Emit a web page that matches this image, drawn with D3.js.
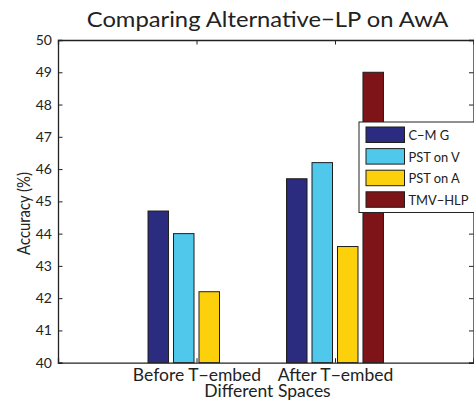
<!DOCTYPE html>
<html>
<head>
<meta charset="utf-8">
<script src="https://cdn.jsdelivr.net/npm/d3@7"></script>
<style>
  body { margin: 0; background: #fff; }
  text { font-family: Lato, "Open Sans", sans-serif; fill: #222; }
</style>
</head>
<body>
<script>
// Grouped bar chart -- Alternative-LP comparison on AwA
var categories = ["Before T\u2212embed", "After T\u2212embed"];
var seriesNames = ["C\u2212M G", "PST on V", "PST on A", "TMV\u2212HLP"];
var seriesColors = ["#2b2b7f", "#4fc8eb", "#fcd10c", "#7e1417"];
// one array per series, null = no bar
var cmg = [44.7, 45.7];
var pstV = [44.0, 46.2];
var pstA = [42.2, 43.6];
var tmvHlp = [null, 49.0];
var yTicks = [40, 41, 42, 43, 44, 45, 46, 47, 48, 49, 50];

var width = 474, height = 400;
var margin = {top: 40, right: 0.5, bottom: 37.3, left: 58};
var innerW = width - margin.left - margin.right,
    innerH = height - margin.top - margin.bottom;

var svg = d3.select("body").append("svg")
  .attr("width", width)
  .attr("height", height);

var g = svg.append("g")
  .attr("transform", "translate(" + margin.left + "," + margin.top + ")");

// matlab style: categories at 1 and 2, xlim [0,3]
var x = d3.scaleLinear().domain([0, 3]).range([0, innerW]);
var y = d3.scaleLinear().domain([40, 50]).range([innerH, 0]);

var allSeries = [cmg, pstV, pstA, tmvHlp];
var nSeries = allSeries.length;
var barW = 0.148, barStep = 0.184;

var bars = [];
allSeries.forEach(function(vals, s){
  vals.forEach(function(v, c){
    if (v == null) return;
    bars.push({series: s, cat: c, value: v});
  });
});

g.selectAll(".bar")
  .data(bars)
  .enter()
  .append("rect")
  .attr("class", "bar")
  .attr("x", function(d){
    var center = (d.cat + 1) + (d.series - (nSeries - 1) / 2) * barStep;
    return x(center - barW / 2);
  })
  .attr("width", x(barW) - x(0))
  .attr("y", function(d){ return y(d.value); })
  .attr("height", function(d){ return innerH - y(d.value); })
  .style("fill", function(d){ return seriesColors[d.series]; })
  .style("stroke", "#1e1e1e")
  .style("stroke-width", 1);

// box + ticks
var tickLen = 4.5;
var catTicks = categories.map(function(c, i){ return i + 1; });

var axisL = d3.axisLeft(y).tickValues(yTicks).tickSize(-tickLen).tickPadding(6)
  .tickFormat(d3.format("d"));
var axisR = d3.axisRight(y).tickValues(yTicks).tickSize(-tickLen).tickFormat("");
var axisB = d3.axisBottom(x).tickValues(catTicks).tickSize(-tickLen).tickPadding(6)
  .tickFormat(function(d){ return categories[d - 1]; });
var axisT = d3.axisTop(x).tickValues(catTicks).tickSize(-tickLen).tickFormat("");

var gl = g.append("g").call(axisL);
var gr = g.append("g").attr("transform", "translate(" + innerW + ",0)").call(axisR);
var gb = g.append("g").attr("transform", "translate(0," + innerH + ")").call(axisB);
var gt = g.append("g").call(axisT);

[gl, gr, gb, gt].forEach(function(a){
  a.select(".domain").attr("stroke", "#222").attr("stroke-width", 1.3);
  a.selectAll(".tick line").attr("stroke", "#222");
});
gl.selectAll(".tick text").style("font-size", "14px").style("fill", "#222")
  .style("font-family", "Lato, sans-serif");
gb.selectAll(".tick text").style("font-size", "17.5px").style("fill", "#222")
  .style("font-family", "Lato, sans-serif");

// squeeze a text a bit, the original font is narrower than Lato
function condense(sel, factor){
  sel.each(function(){
    var len = this.getComputedTextLength();
    d3.select(this)
      .attr("textLength", len * factor)
      .attr("lengthAdjust", "spacingAndGlyphs");
  });
}

// titles
svg.append("text")
  .attr("x", 267.5)
  .attr("y", 27)
  .attr("text-anchor", "middle")
  .style("font-size", "22px")
  .text("Comparing Alternative\u2212LP on AwA")
  .call(condense, 1.08);

svg.append("text")
  .attr("transform", "translate(30,213.5) rotate(-90)")
  .attr("text-anchor", "middle")
  .style("font-size", "16.5px")
  .text("Accuracy (%)")
  .call(condense, 0.9);

svg.append("text")
  .attr("x", 267.5)
  .attr("y", 396.5)
  .attr("text-anchor", "middle")
  .style("font-size", "17.5px")
  .text("Different Spaces");

// legend (runs off the right edge like the original)
var legend = svg.append("g").attr("transform", "translate(359,122)");
legend.append("rect")
  .attr("width", 116)
  .attr("height", 90.5)
  .style("fill", "#fff")
  .style("stroke", "#222")
  .style("stroke-width", 1);

var items = legend.selectAll(".item")
  .data(seriesNames)
  .enter()
  .append("g")
  .attr("class", "item")
  .attr("transform", function(d, i){ return "translate(7," + (5 + i * 21.6) + ")"; });

items.append("rect")
  .attr("width", 38.5)
  .attr("height", 15.5)
  .style("fill", function(d, i){ return seriesColors[i]; })
  .style("stroke", "#1e1e1e")
  .style("stroke-width", 1);

items.append("text")
  .attr("x", 42.5)
  .attr("y", 13.2)
  .style("font-size", "14px")
  .text(function(d){ return d; })
  .call(condense, 0.92);
</script>
</body>
</html>
